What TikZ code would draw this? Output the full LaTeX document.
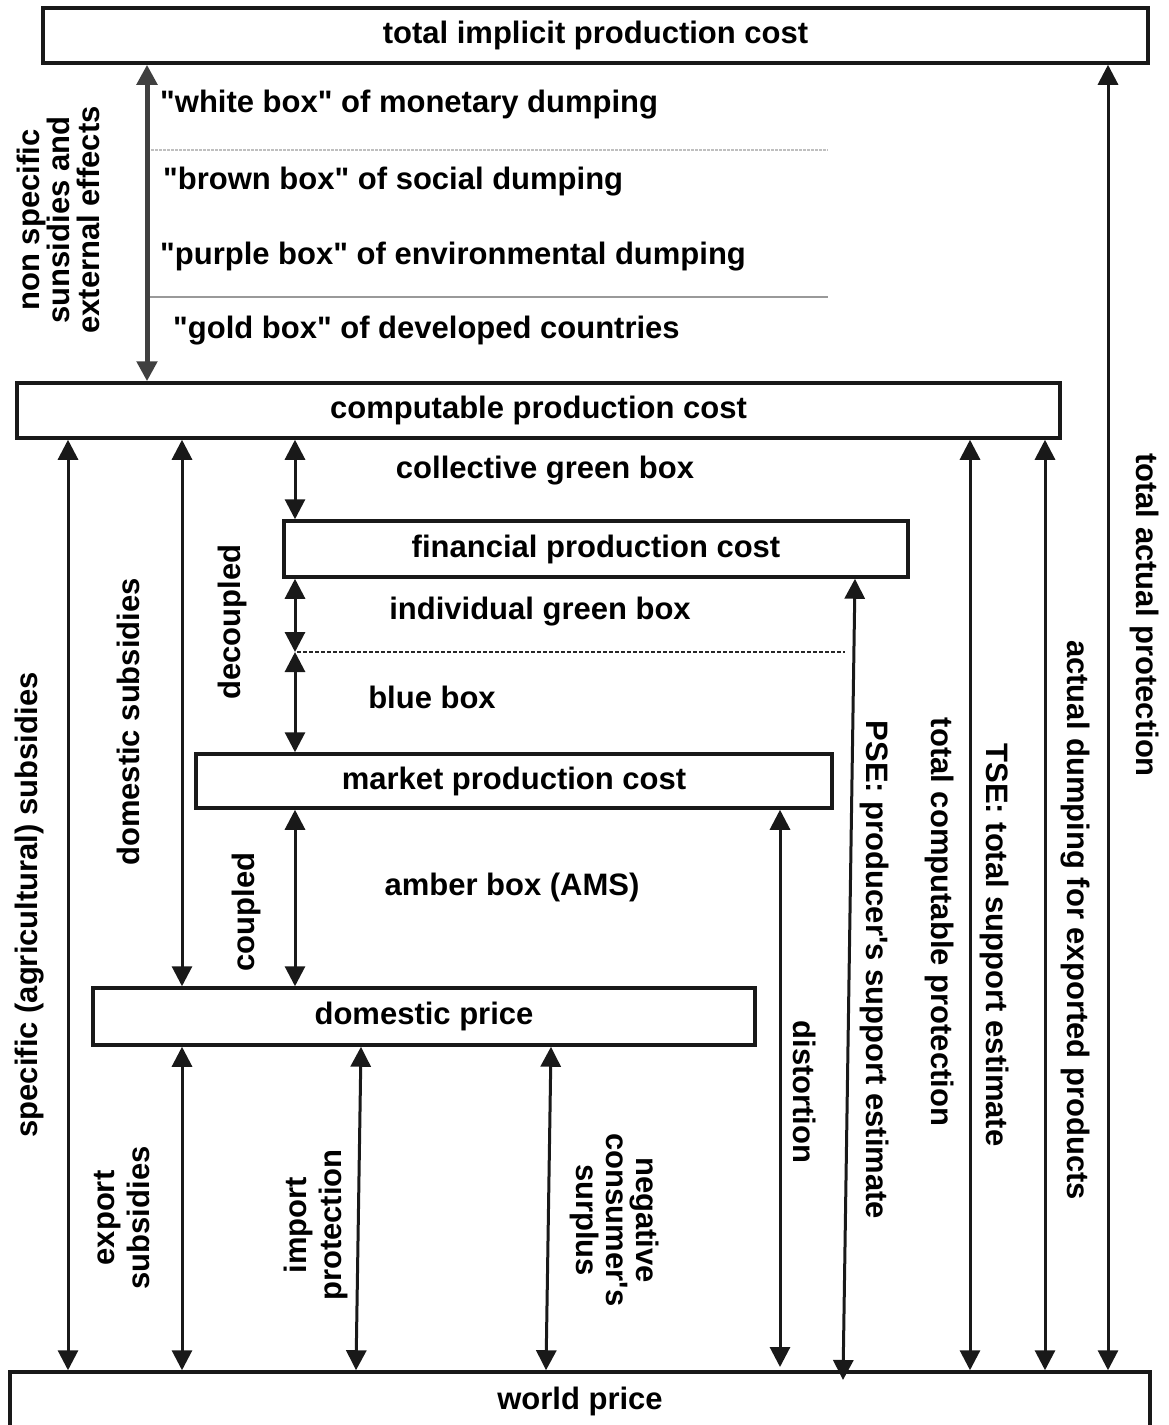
\documentclass[tikz,border=0pt]{standalone}
\usepackage{fontspec}
\setmainfont{Liberation Sans}[Ligatures=TeXOff]
\usetikzlibrary{arrows.meta}
\begin{document}
\begin{tikzpicture}[x=1pt,y=-1pt,
  box/.style={draw=black!90, line width=3.5pt, fill=white, inner sep=0pt,
    font=\fontsize{31}{33}\selectfont\bfseries},
  lbl/.style={font=\fontsize{31}{33}\selectfont\bfseries, inner sep=0pt, align=center},
  dbl/.style={{Triangle[width=20pt,length=20pt]}-{Triangle[width=20pt,length=20pt]},
    line width=3pt, draw=black!90},
  sep/.style={line width=2.5pt},
]
\useasboundingbox (0,0) rectangle (1168,1425);
\fill[white] (0,0) rectangle (1168,1425);
\clip (0,0) rectangle (1168,1425);

% boxes
\node[box, minimum width=1105pt, minimum height=55pt] (impl) at (595.5,35.5) {total implicit production cost};
\node[box, minimum width=1043pt, minimum height=55pt] (comp) at (538.5,410.5) {computable production cost};
\node[box, minimum width=624pt, minimum height=56pt] (fin) at (596,549) {financial production cost};
\node[box, minimum width=636pt, minimum height=54pt] (mkt) at (514,781) {market production cost};
\node[box, minimum width=662pt, minimum height=57pt] (dom) at (424,1016.5) {domestic price};
\node[box, minimum width=1140pt, minimum height=58pt] (world) at (580,1401) {world price};

% column coordinates
\coordinate (c68) at (68,0);
\coordinate (c147) at (147,0);
\coordinate (c182) at (182,0);
\coordinate (c295) at (295,0);
\coordinate (c970) at (970,0);
\coordinate (c1045) at (1045,0);
\coordinate (c1108) at (1108,0);
\coordinate (c780) at (780,0);

% separator lines
\coordinate (s1a) at (147,150); \coordinate (s1b) at (828,150);
\coordinate (s2a) at (147,297); \coordinate (s2b) at (828,297);
\coordinate (dla) at (297,652); \coordinate (dlb) at (845,652);
\draw[sep, black!25, dash pattern=on 3pt off 1pt] (s1a) -- (s1b);
\draw[sep, black!40] (s2a) -- (s2b);
\draw[sep, black!85, dash pattern=on 4pt off 2pt] (dla) -- (dlb);

% arrows
\draw[dbl, line width=5pt, draw=black!75] (impl.south -| c147) -- (comp.north -| c147);
\draw[dbl] (comp.south -| c68) -- (world.north -| c68);
\draw[dbl] (comp.south -| c182) -- (dom.north -| c182);
\draw[dbl] (comp.south -| c295) -- (fin.north -| c295);
\draw[dbl] (fin.south -| c295) -- (dla -| c295);
\draw[dbl] (dla -| c295) -- (mkt.north -| c295);
\draw[dbl] (mkt.south -| c295) -- (dom.north -| c295);
\draw[dbl] (dom.south -| c182) -- (world.north -| c182);
\coordinate (ipT) at (361,0); \coordinate (ipB) at (356,0);
\draw[dbl] (dom.south -| ipT) -- (world.north -| ipB);
\coordinate (ncT) at (551,0); \coordinate (ncB) at (546,0);
\draw[dbl] (dom.south -| ncT) -- (world.north -| ncB);
\coordinate (distB) at (780,1367);
\draw[dbl] (mkt.south -| c780) -- (distB);
\coordinate (pseT) at (855,0); \coordinate (pseB) at (843,1380);
\draw[dbl] (fin.south -| pseT) -- (pseB);
\draw[dbl] (comp.south -| c970) -- (world.north -| c970);
\draw[dbl] (comp.south -| c1045) -- (world.north -| c1045);
\draw[dbl] (impl.south -| c1108) -- (world.north -| c1108);

% horizontal labels
\node[lbl, anchor=west] (wb) at (160,105) {"white box" of monetary dumping};
\node[lbl, anchor=west] (bb) at (163,182) {"brown box" of social dumping};
\node[lbl, anchor=west] (pb) at (160,257) {"purple box" of environmental dumping};
\node[lbl, anchor=west] (gb) at (173,331) {"gold box" of developed countries};
\node[lbl] (cgb) at (545,471) {collective green box};
\node[lbl] (igb) at (540,612) {individual green box};
\node[lbl] (blb) at (432,697) {blue box};
\node[lbl] (amb) at (512,887) {amber box (AMS)};

% rotated labels (bottom to top)
\node[lbl, rotate=90] (nss) at (58,220) {non specific\\[-3pt] sunsidies and\\[-3pt] external effects};
\node[lbl, rotate=90] (spec) at (30,905) {specific (agricultural) subsidies};
\node[lbl, rotate=90] (doms) at (128,722) {domestic subsidies};
\node[lbl, rotate=90] (dec) at (232,622) {decoupled};
\node[lbl, rotate=90] (cpl) at (246,912) {coupled};
\node[lbl, rotate=90] (exps) at (122,1218) {export\\[2pt] subsidies};
\node[lbl, rotate=90] (imps) at (316,1225) {import\\[2pt] protection};

% rotated labels (top to bottom)
\node[lbl, rotate=-90] (ncs) at (615,1220) {negative\\[-3pt] consumer's\\[-3pt] surplus};
\node[lbl, rotate=-90] (dist) at (805,1092) {distortion};
\node[lbl, rotate=-90] (pse) at (875,970) {PSE: producer's support estimate};
\node[lbl, rotate=-90] (tcp) at (940,922) {total computable protection};
\node[lbl, rotate=-90] (tse) at (995,945) {TSE: total support estimate};
\node[lbl, rotate=-90] (adp) at (1075,920) {actual dumping for exported products};
\node[lbl, rotate=-90] (tap) at (1145,615) {total actual protection};
\end{tikzpicture}
\end{document}
